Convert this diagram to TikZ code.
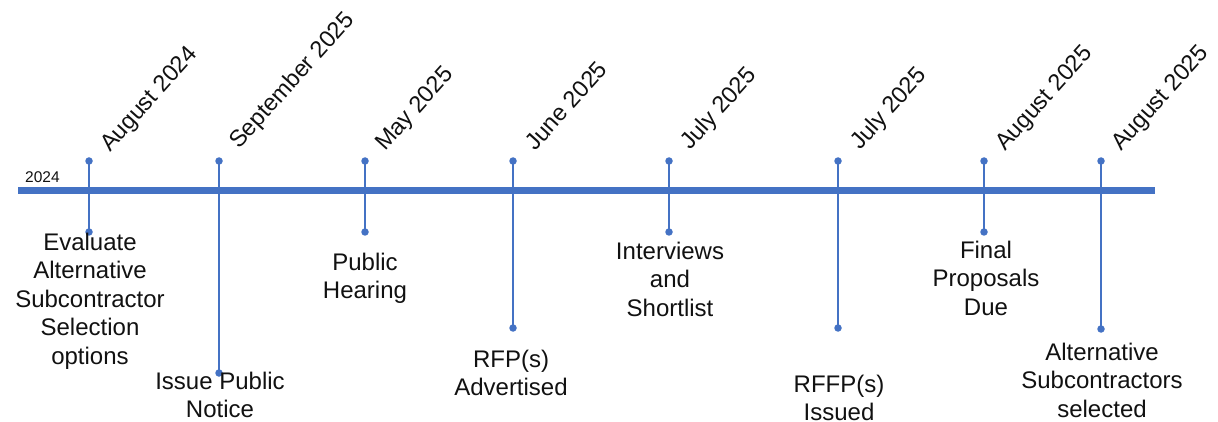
\documentclass[tikz,border=0pt]{standalone}
\usepackage{fontspec}
\setmainfont{Liberation Sans}
\definecolor{tlblue}{HTML}{4472C4}
\definecolor{txt}{HTML}{111111}
\begin{document}
\begin{tikzpicture}[x=1pt,y=-1pt,
  bar/.style={draw=tlblue,line width=7pt},
  stem/.style={draw=tlblue,line width=1.8pt},
  dot/.style={circle,fill=tlblue,inner sep=0pt,minimum size=7.5pt},
  datelbl/.style={rotate=48,anchor=base west,inner sep=0pt,text=txt,font=\fontsize{23.5}{27}\selectfont},
  evlbl/.style={anchor=north,inner sep=0pt,align=center,text=txt,font=\fontsize{24}{28.5}\selectfont},
  yearlbl/.style={inner sep=0pt,text=txt,font=\fontsize{15.5}{18}\selectfont}]
\useasboundingbox (0,0) rectangle (1218,422);
% main bar
\coordinate (barL) at (18,191);
\coordinate (barR) at (1155,191);
\draw[bar] (barL) -- (barR);
\node[yearlbl,anchor=base west] (year) at (25,183) {2024};
% markers: name / x / bottom y
\foreach \n/\x/\yb in {1/89/232, 2/219/373, 3/365/232, 4/513/328, 5/669/232, 6/838/328, 7/984/232, 8/1101/329}{
  \node[dot] (t\n) at (\x,161) {};
  \node[dot] (b\n) at (\x,\yb) {};
  \draw[stem] (t\n.center) -- (b\n.center);
}
% dates
\node[datelbl] (d1) at (110,153) {August 2024};
\node[datelbl] (d2) at (239,150) {September 2025};
\node[datelbl] (d3) at (385,152) {May 2025};
\node[datelbl] (d4) at (535,152) {June 2025};
\node[datelbl] (d5) at (690,151) {July 2025};
\node[datelbl] (d6) at (860,151) {July 2025};
\node[datelbl] (d7) at (1005,152) {August 2025};
\node[datelbl] (d8) at (1121,152) {August 2025};
% event labels
\node[evlbl] (e1) at (90,232.5) {Evaluate\\Alternative\\Subcontractor\\Selection\\options};
\node[evlbl] (e2) at (220,371.5) {Issue Public\\Notice};
\node[evlbl] (e3) at (365,252.5) {Public\\Hearing};
\node[evlbl] (e4) at (511,349.5) {RFP(s)\\Advertised};
\node[evlbl] (e5) at (670,241.5) {Interviews\\and\\Shortlist};
\node[evlbl] (e6) at (839,374.5) {RFFP(s)\\Issued};
\node[evlbl] (e7) at (986,240.5) {Final\\Proposals\\Due};
\node[evlbl] (e8) at (1102,342.5) {Alternative\\Subcontractors\\selected};
\end{tikzpicture}
\end{document}
